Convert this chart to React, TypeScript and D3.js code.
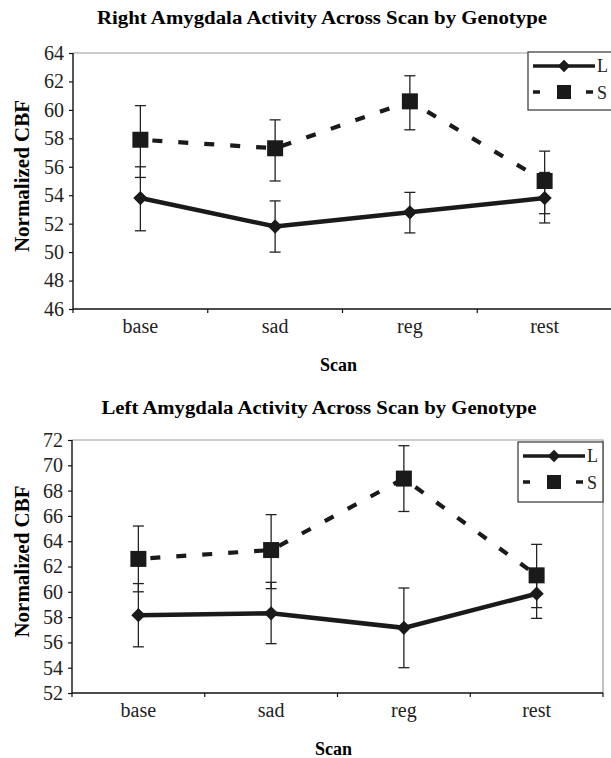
import React, { useEffect, useRef } from "react";
import * as d3 from "d3";

const categories = ["base", "sad", "reg", "rest"];

// right amygdala
const rightL = [53.8, 51.8, 52.8, 53.8];
const rightLHi = [56.0, 53.6, 54.2, 55.6];
const rightLLo = [51.5, 50.0, 51.35, 52.05];
const rightS = [57.9, 57.3, 60.6, 55.0];
const rightSHi = [60.3, 59.3, 62.4, 57.1];
const rightSLo = [55.25, 55.0, 58.6, 52.7];
const rightTicks = [46, 48, 50, 52, 54, 56, 58, 60, 62, 64];

// left amygdala
const leftL = [58.15, 58.3, 57.15, 59.85];
const leftLHi = [60.65, 60.75, 60.3, 61.8];
const leftLLo = [55.65, 55.9, 54.0, 57.9];
const leftS = [62.6, 63.3, 68.95, 61.3];
const leftSHi = [65.2, 66.1, 71.55, 63.75];
const leftSLo = [60.0, 60.25, 66.35, 58.75];
const leftTicks = [52, 54, 56, 58, 60, 62, 64, 66, 68, 70, 72];

const serif = "Liberation Serif, Times New Roman, serif";

function drawPanel(svg, p) {
  const g = svg.append("g");
  const x = d3.scaleBand().domain(categories).range([p.x0, p.x1]);
  const y = d3.scaleLinear().domain(d3.extent(p.ticks)).range([p.y1, p.y0]);

  g.append("text")
    .attr("x", p.titleX).attr("y", p.titleY)
    .attr("text-anchor", "middle")
    .style("font-family", serif).attr("font-weight", "bold").attr("font-size", 18)
    .attr("textLength", p.titleW).attr("lengthAdjust", "spacingAndGlyphs")
    .text(p.title);

  // plot frame (grey top and right)
  g.append("path")
    .attr("d", `M${p.x0},${p.y0}H${p.x1}V${p.y1}`)
    .attr("fill", "none").attr("stroke", "#9a9a9a").attr("stroke-width", 1.2);

  const yAxis = d3.axisLeft(y).tickValues(p.ticks).tickSize(4).tickPadding(5);
  const ya = g.append("g").attr("transform", `translate(${p.x0},0)`).call(yAxis);
  ya.attr("font-family", null).attr("font-size", null);
  ya.select(".domain").attr("stroke", "#111").attr("stroke-width", 1.4).attr("d", `M0,${p.y0}V${p.y1}`);
  ya.selectAll(".tick line").attr("stroke", "#111").attr("stroke-width", 1.2);
  ya.selectAll(".tick text").style("font-family", serif).attr("font-size", 20).attr("fill", "#222");

  // x axis
  g.append("line")
    .attr("x1", p.x0).attr("x2", p.x1).attr("y1", p.y1).attr("y2", p.y1)
    .attr("stroke", "#111").attr("stroke-width", 1.4);
  const bounds = categories.map((c) => x(c)).concat([p.x1]);
  g.selectAll(".xt").data(bounds).join("line")
    .attr("x1", (d) => d).attr("x2", (d) => d)
    .attr("y1", p.y1).attr("y2", p.y1 + 4)
    .attr("stroke", "#111").attr("stroke-width", 1.2);
  g.selectAll(".xl").data(categories).join("text")
    .attr("x", (d) => x(d) + x.bandwidth() / 2)
    .attr("y", p.y1 + 24)
    .attr("text-anchor", "middle")
    .style("font-family", serif).attr("font-size", 20).attr("fill", "#222")
    .text((d) => d);

  g.append("text")
    .attr("x", (p.x0 + p.x1) / 2 - 4).attr("y", p.y1 + 62)
    .attr("text-anchor", "middle")
    .style("font-family", serif).attr("font-weight", "bold").attr("font-size", 18)
    .text("Scan");

  g.append("text")
    .attr("transform", `translate(29,${(p.y0 + p.y1) / 2 - 5}) rotate(-90)`)
    .attr("text-anchor", "middle")
    .style("font-family", serif).attr("font-weight", "bold").attr("font-size", 21)
    .text("Normalized CBF");

  const cx = (i) => x(categories[i]) + x.bandwidth() / 2;

  // error bars
  const bars = [
    { hi: p.sHi, lo: p.sLo },
    { hi: p.lHi, lo: p.lLo },
  ];
  bars.forEach((b) => {
    categories.forEach((c, i) => {
      g.append("line")
        .attr("x1", cx(i)).attr("x2", cx(i))
        .attr("y1", y(b.hi[i])).attr("y2", y(b.lo[i]))
        .attr("stroke", "#222").attr("stroke-width", 1.3);
      [b.hi[i], b.lo[i]].forEach((v) => {
        g.append("line")
          .attr("x1", cx(i) - 5.5).attr("x2", cx(i) + 5.5)
          .attr("y1", y(v)).attr("y2", y(v))
          .attr("stroke", "#222").attr("stroke-width", 1.3);
      });
    });
  });

  const line = d3.line().x((d, i) => cx(i)).y((d) => y(d));

  g.append("path").datum(p.s).attr("d", line)
    .attr("fill", "none").attr("stroke", "#1a1a1a").attr("stroke-width", 4.2)
    .attr("stroke-dasharray", "10,16").attr("stroke-dashoffset", -12);
  g.append("path").datum(p.l).attr("d", line)
    .attr("fill", "none").attr("stroke", "#1a1a1a").attr("stroke-width", 4.5);

  g.selectAll(".sq").data(p.s).join("rect")
    .attr("x", (d, i) => cx(i) - 8).attr("y", (d) => y(d) - 8)
    .attr("width", 16).attr("height", 16).attr("fill", "#1a1a1a");
  const diamond = d3.symbol().type(d3.symbolDiamond2).size(130);
  g.selectAll(".dm").data(p.l).join("path")
    .attr("transform", (d, i) => `translate(${cx(i)},${y(d)})`)
    .attr("d", diamond).attr("fill", "#1a1a1a");

  // legend
  const lg = p.legend;
  g.append("rect")
    .attr("x", lg.x).attr("y", lg.y).attr("width", lg.w).attr("height", lg.h)
    .attr("fill", "white").attr("stroke", "#333").attr("stroke-width", 1.2);
  const lx0 = lg.x + 5, lx1 = lg.x + 67, lmid = (lx0 + lx1) / 2;
  g.append("line").attr("x1", lx0).attr("x2", lx1).attr("y1", lg.y + 14).attr("y2", lg.y + 14)
    .attr("stroke", "#1a1a1a").attr("stroke-width", 3.5);
  g.append("path").attr("transform", `translate(${lmid},${lg.y + 14})`)
    .attr("d", d3.symbol().type(d3.symbolDiamond2).size(100)).attr("fill", "#1a1a1a");
  g.append("line").attr("x1", lx0).attr("x2", lx1).attr("y1", lg.y + 40).attr("y2", lg.y + 40)
    .attr("stroke", "#1a1a1a").attr("stroke-width", 3.5).attr("stroke-dasharray", "7,46");
  g.append("rect").attr("x", lmid - 7).attr("y", lg.y + 33).attr("width", 14).attr("height", 14).attr("fill", "#1a1a1a");
  ["L", "S"].forEach((t, i) => {
    g.append("text")
      .attr("x", lx1 + 2).attr("y", lg.y + 20 + i * 27)
      .style("font-family", serif).attr("font-size", 18).attr("fill", "#222")
      .text(t);
  });
}

export default function App() {
  const ref = useRef(null);
  useEffect(() => {
    const svg = d3.select(ref.current);
    svg.selectAll("*").remove();
    drawPanel(svg, {
      title: "Right Amygdala Activity Across Scan by Genotype",
      titleX: 322, titleY: 24, titleW: 450,
      x0: 73, x1: 612, y0: 53, y1: 309,
      ticks: rightTicks,
      l: rightL, lHi: rightLHi, lLo: rightLLo,
      s: rightS, sHi: rightSHi, sLo: rightSLo,
      legend: { x: 528, y: 52, w: 100, h: 58 },
    });
    drawPanel(svg, {
      title: "Left Amygdala Activity Across Scan by Genotype",
      titleX: 319, titleY: 414, titleW: 435,
      x0: 72, x1: 603, y0: 440, y1: 693,
      ticks: leftTicks,
      l: leftL, lHi: leftLHi, lLo: leftLLo,
      s: leftS, sHi: leftSHi, sLo: leftSLo,
      legend: { x: 518, y: 442, w: 85, h: 60 },
    });
  }, []);
  return (
    <svg
      ref={ref}
      width={611}
      height={758}
      style={{ position: "absolute", left: 0, top: 0, background: "white" }}
    />
  );
}
